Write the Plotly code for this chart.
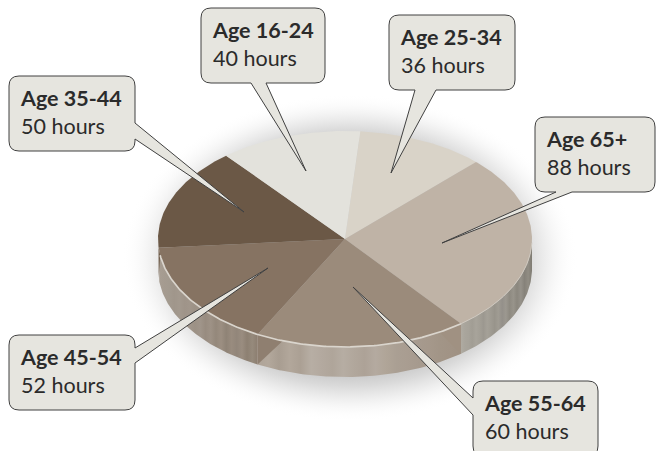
import math
import plotly.graph_objects as go

# ---- data ----
categories = ["Age 25-34", "Age 65+", "Age 55-64", "Age 45-54", "Age 35-44", "Age 16-24"]
hours = [36, 88, 60, 52, 50, 40]

# ---- styles / layout ----
slice_colors = ["#D9D3C8", "#BFB3A6", "#9B8B7B", "#867362", "#6B5846", "#E3E2DC"]
cx, cy, rx, ry, depth = 345, 239, 187, 108, 30
start_deg = 4.7
FONT = "Lato"
FONT_SIZE = 21.5
boxes = {  # x0, x1, y0, y1
    "Age 25-34": (389, 515, 15, 90),
    "Age 65+": (535, 655, 117, 192),
    "Age 55-64": (473, 598, 381, 456),
    "Age 45-54": (9, 135, 335, 410),
    "Age 35-44": (9, 135, 76, 151),
    "Age 16-24": (201, 325, 8, 83),
}
tails = {  # side, base a, base b, tip x, tip y
    "Age 25-34": ("b", 436, 415, 391, 173),
    "Age 65+": ("b", 572, 556, 442, 243),
    "Age 55-64": ("l", 415, 398, 353, 287),
    "Age 45-54": ("r", 348, 363, 268, 268),
    "Age 35-44": ("r", 123, 139, 244, 212),
    "Age 16-24": ("b", 266, 251, 306, 171),
}
# wall stripe tones, left to right, for each stretch of the side wall
wall_a_tones = ["#A89E93", "#A59B90", "#A39A8F", "#A0968B", "#A3998E", "#9F9489", "#A1968B", "#9C9185",
                "#A0958A", "#988C80", "#9E9286", "#94887B", "#9C8F82", "#8F8376", "#998C7F", "#92867A",
                "#9A8D80", "#8D8072", "#968A7C", "#8C7E70"]
wall_b_tones = ["#AEA397", "#B3A89C", "#A89D91", "#B2A79B", "#ABA094", "#B7AEA4", "#B3A99F", "#AFA59A",
                "#B6ADA3", "#B1A79C", "#ADA297", "#B4AAA0", "#B0A598", "#AA9F93", "#A99D91", "#A69A8E",
                "#A5988B", "#A29587", "#A19385", "#9F9183"]
wall_c_tones = ["#AFABA2", "#A9A59C", "#A7A39A", "#A19D94", "#A8A49B", "#A39F96", "#9C9890", "#A5A198",
                "#9F9B92", "#98948B", "#A09C93", "#94908A", "#9C9890", "#8E8A81", "#98948B", "#8B877E",
                "#96928A", "#86827A", "#918D84", "#7F7B72"]


def stripes(tones):
    n = len(tones) - 1
    return [[i / n, c] for i, c in enumerate(tones)]


def pt(deg, dy=0):
    t = math.radians(deg)
    return cx + rx * math.sin(t), cy - ry * math.cos(t) + dy


def arc(d0, d1, dy=0, n=None):
    n = n or max(2, int(abs(d1 - d0) * 1.5))
    return [pt(d0 + (d1 - d0) * i / n, dy) for i in range(n + 1)]


def poly(points, **kw):
    return go.Scatter(x=[p[0] for p in points], y=[p[1] for p in points], mode="lines",
                      fill="toself", line=dict(width=0), hoverinfo="skip", showlegend=False, **kw)


def line(points, color, width):
    return go.Scatter(x=[p[0] for p in points], y=[p[1] for p in points], mode="lines",
                      line=dict(color=color, width=width), hoverinfo="skip", showlegend=False)


total = sum(hours)
edges = [start_deg]
for h in hours:
    edges.append(edges[-1] + h / total * 360)
e_65_55 = edges[2]
e_55_45 = edges[3]
e_45_35 = edges[4]

fig = go.Figure()

# soft shadow
fig.add_trace(poly([(350 + 228 * math.cos(i / 60 * math.pi), 258 + 164 * math.sin(i / 60 * math.pi)) for i in range(121)],
                   fillgradient=dict(type="radial", colorscale=[
                       [0, "rgba(120,120,120,0.42)"], [0.70, "rgba(120,120,120,0.42)"], [0.78, "rgba(130,130,130,0.30)"],
                       [0.88, "rgba(150,150,150,0.12)"], [1, "rgba(255,255,255,0)"]])))

# side wall segments, following the slice boundaries
for d0, d1, tones in [(e_55_45, e_45_35, wall_a_tones), (e_65_55, e_55_45, wall_b_tones), (90, e_65_55, wall_c_tones)]:
    pts = arc(d0, d1) + arc(d1, d0, depth)
    fig.add_trace(poly(pts, fillgradient=dict(type="horizontal", colorscale=stripes(tones))))

# darker cut faces at the slice joints
for base, off, col in [(e_55_45, -8.5, "#8F7F70"), (e_65_55, 8.0, "#A09182"), (e_45_35, -4.0, "#6B5846")]:
    p0 = pt(base)
    fig.add_trace(poly([p0, pt(base + off), (p0[0], p0[1] + depth), p0], fillcolor=col))

# top faces
for i, name in enumerate(categories):
    pts = [(cx, cy)] + arc(edges[i], edges[i + 1]) + [(cx, cy)]
    fig.add_trace(poly(pts, fillcolor=slice_colors[i], name=name))

# rim highlight
fig.add_trace(line(arc(92, e_65_55), "#CFC9C0", 1.0))
fig.add_trace(line(arc(e_65_55, e_45_35 - 4), "#DAD5CD", 1.7))

# callouts
shapes, annotations = [], []
for name, h in zip(categories, hours):
    x0, x1, y0, y1 = boxes[name]
    side, a, b, tx, ty = tails[name]
    r = 10
    d = f"M {x0+r} {y0} L {x1-r} {y0} Q {x1} {y0} {x1} {y0+r} "
    if side == "r":
        d += f"L {x1} {a} L {tx} {ty} L {x1} {b} "
    d += f"L {x1} {y1-r} Q {x1} {y1} {x1-r} {y1} "
    if side == "b":
        d += f"L {a} {y1} L {tx} {ty} L {b} {y1} "
    d += f"L {x0+r} {y1} Q {x0} {y1} {x0} {y1-r} "
    if side == "l":
        d += f"L {x0} {a} L {tx} {ty} L {x0} {b} "
    d += f"L {x0} {y0+r} Q {x0} {y0} {x0+r} {y0} Z"
    shapes.append(dict(type="path", path=d, xref="x", yref="y", fillcolor="#E6E5DF",
                       line=dict(color="#404040", width=1), layer="above"))
    annotations.append(dict(x=x0 + 8.5, y=y0 + 22, xref="x", yref="y", text=f"<b>{name}</b>", showarrow=False,
                            xanchor="left", yanchor="middle", font=dict(family=FONT, size=FONT_SIZE, color="#2B2B2B")))
    annotations.append(dict(x=x0 + 9.5, y=y0 + 50, xref="x", yref="y", text=f"{h} hours", showarrow=False,
                            xanchor="left", yanchor="middle", font=dict(family=FONT, size=FONT_SIZE, color="#2B2B2B")))

fig.update_layout(
    width=656, height=451, margin=dict(l=0, r=0, t=0, b=0),
    paper_bgcolor="white", plot_bgcolor="white", showlegend=False,
    xaxis=dict(range=[0, 656], visible=False, fixedrange=True),
    yaxis=dict(range=[451, 0], visible=False, fixedrange=True),
    shapes=shapes, annotations=annotations,
)
fig.write_html("out.html", config={"displayModeBar": False},
               post_script="document.body.style.margin='0';")
